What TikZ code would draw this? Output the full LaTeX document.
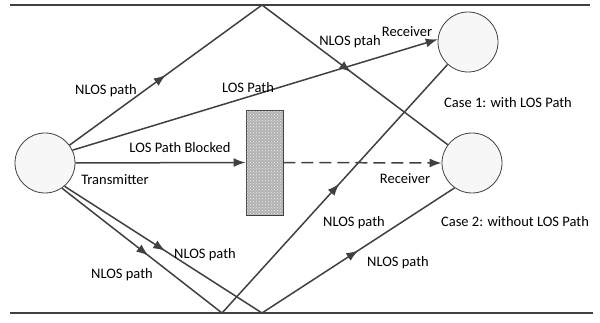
\documentclass[tikz,border=0pt]{standalone}
\usepackage{fontspec}
\setmainfont{Carlito}
\usepackage{tikz}
\definecolor{linegray}{RGB}{64,64,64}
\usetikzlibrary{arrows.meta, shapes, patterns, decorations.markings}

\begin{document}
\begin{tikzpicture}[x=1pt, y=-1pt, >={Latex[length=12pt,width=9pt]},   %Pfeilspitzen wie im Original
					font=\fontsize{14.5}{17}\selectfont,
					ray/.style={draw=linegray, line width=1.5pt},
					midarrow/.style={postaction={decorate}, decoration={markings, mark=at position #1 with {\arrow{>}}}},
					station/.style={circle, draw=linegray, fill=gray!6, line width=0.8pt, minimum size=60pt, inner sep=0pt},
					obstacle/.style={draw=linegray, line width=0.8pt, fill=gray!60, postaction={pattern=crosshatch dots, pattern color=white!85!gray}, minimum width=37pt, minimum height=105pt, inner sep=0pt}]
					\useasboundingbox (0,0) rectangle (600,323);
					% Waende
					\draw[linegray, line width=2pt] (10,5) -- (590,5);
					\draw[linegray, line width=2pt] (10,313) -- (593,313);
					\coordinate (top) at (262,5);
					\coordinate (bot1) at (222,313);
					\coordinate (bot2) at (262,313);
					\node[station] (tx) at (45,163) {};
					\node[station] (rx1) at (468,42) {};
					\node[station] (rx2) at (472,163) {};
					\node[obstacle] (block) at (264.5,162.5) {};
					\draw[ray, midarrow=0.5] (tx) -- (top);
					\draw[ray, midarrow=0.48] (top) -- (rx2);
					\draw[ray, ->] (tx.25) -- (rx1.175);
					\draw[ray, ->] (tx.east) -- (block.west);
					\draw[ray, ->, dashed, dash pattern=on 12pt off 6pt] (block.east) -- (rx2.west);
					\draw[ray, midarrow=0.54] (tx.-56) -- (bot1);
					\draw[ray, midarrow=0.51] (tx.-50) -- (bot2);
					\draw[ray, midarrow=0.52] (bot1) -- (rx1);
					\draw[ray, midarrow=0.5] (bot2) -- (rx2.235);
					\node (l1) at (106,91) {NLOS path};
					\node (l2) at (248,88) {LOS Path};
					\node (l3) at (180,148) {LOS Path Blocked};
					\node (l4) at (115,180) {Transmitter};
					\node (l5) at (350,42) {NLOS ptah};
					\node (l6) at (407,32) {Receiver};
					\node (l7) at (508,103) {Case 1: with LOS Path};
					\node (l8) at (405,179) {Receiver};
					\node (l9) at (515,222) {Case 2: without LOS Path};
					\node (l10) at (354,223) {NLOS path};
					\node (l11) at (398,263) {NLOS path};
					\node (l12) at (205,255) {NLOS path};
					\node (l13) at (122,275) {NLOS path};
				\end{tikzpicture}
\end{document}
